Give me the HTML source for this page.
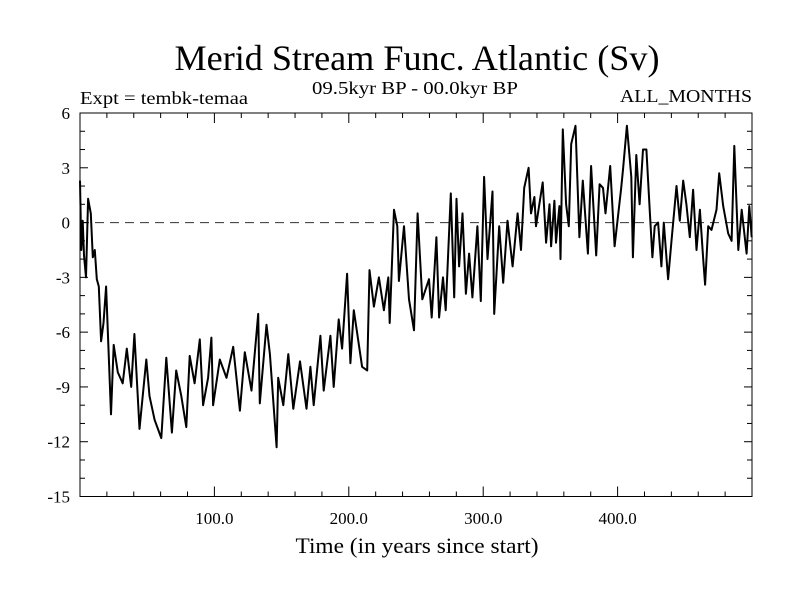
<!DOCTYPE html>
<html><head><meta charset="utf-8"><style>
html,body{margin:0;padding:0;background:#fff;}
svg{display:block;}
</style></head><body>
<svg id="chart" width="800" height="600" viewBox="0 0 800 600" xmlns="http://www.w3.org/2000/svg">
<rect width="800" height="600" fill="#fff"/>
<text x="417" y="70" text-anchor="middle" font-family="Liberation Serif, serif" font-size="36" textLength="485" lengthAdjust="spacingAndGlyphs">Merid Stream Func. Atlantic (Sv)</text>
<text x="80" y="104" font-family="Liberation Serif, serif" font-size="18" textLength="168" lengthAdjust="spacingAndGlyphs">Expt = tembk-temaa</text>
<text x="415" y="94" text-anchor="middle" font-family="Liberation Serif, serif" font-size="18" textLength="206" lengthAdjust="spacingAndGlyphs">09.5kyr BP - 00.0kyr BP</text>
<text x="752" y="102" text-anchor="end" font-family="Liberation Serif, serif" font-size="18" textLength="132" lengthAdjust="spacingAndGlyphs">ALL_MONTHS</text>
<text x="417" y="553" text-anchor="middle" font-family="Liberation Serif, serif" font-size="22" textLength="243" lengthAdjust="spacingAndGlyphs">Time (in years since start)</text>
<g id="axes"></g>
<g id="series"></g>
</svg>
<script>
const years = [0,1,2,3,4.5,6,8,9.5,11,12.5,14,15.7,17.5,19.4,21,23.1,25.1,28.1,31.8,34.8,38.1,40.5,44.3,49.3,51.7,55.5,60.5,64.2,68.4,71.6,75.4,79.1,81.6,85.3,89.1,91.6,95.3,97.8,99,104,109,114,119,122.6,127.6,132.6,133.8,138.8,141.3,146.3,147.5,151.3,155,158.7,163.7,168.5,171.4,173.9,178.9,181.3,186.3,188.8,192.5,195,198.7,201.2,203.7,209.9,213.7,215.4,218.7,222.4,226.1,229.4,230.4,233.6,236.1,237.3,241.1,244.8,248.5,251.2,254.7,259.7,261.7,265.2,267.2,270.1,272.1,275.9,278.4,280.1,282.1,284.6,287.1,289.5,292,295.7,298.2,300.7,303.2,306.9,308.2,311.9,314.9,318.1,321.9,325.6,328.1,330.5,333.8,335.6,338.1,339.3,344.3,346.8,349.3,350.5,353,354.2,356.7,357.5,359.2,361.7,363.7,365.5,368.7,371.6,374.1,377.9,380.3,384.1,386.6,389.1,391,394.5,397.8,402.7,404,406.9,410.2,411.4,413.9,416.4,418.9,421.4,423.9,425.9,427.6,430.1,432.6,434.4,437.6,440.1,443.8,446.3,448.8,451.2,453.7,456.2,458.7,461.2,463.7,465.1,467.4,469.9,473.6,475.6,478.6,482.3,484.8,486.8,489.8,492.3,496,498,499.8];
const values = [2.3,-1.5,0.1,-1.8,-3.0,1.3,0.5,-1.9,-1.5,-3.1,-3.5,-6.5,-5.5,-3.5,-6.5,-10.5,-6.7,-8.2,-8.8,-6.9,-9.0,-6.1,-11.3,-7.5,-9.5,-10.8,-11.8,-7.4,-11.5,-8.1,-9.5,-11.2,-7.3,-8.8,-6.4,-10.0,-8.5,-6.3,-10.0,-7.5,-8.5,-6.8,-10.3,-7.1,-9.2,-5.0,-9.9,-5.6,-7.2,-12.3,-8.5,-10.0,-7.2,-10.2,-7.6,-10.2,-7.9,-10.0,-6.2,-9.2,-6.2,-9.0,-5.3,-6.9,-2.8,-7.7,-4.8,-7.9,-8.1,-2.6,-4.6,-3.0,-4.8,-3.0,-5.5,0.7,-0.2,-3.2,-0.2,-4.2,-5.9,0.5,-4.2,-3.1,-5.2,-0.8,-5.2,-3.0,-4.8,1.6,-4.1,1.3,-2.4,0.5,-3.9,-1.7,-4.1,-0.2,-4.3,2.5,-2.0,1.7,-5.0,-0.2,-3.3,0.1,-2.4,0.5,-1.5,1.9,3.0,0.5,1.4,-0.2,2.2,-1.1,1.0,-1.3,1.2,-1.1,0.9,-2.0,5.1,1.0,-0.2,4.3,5.3,-0.8,2.3,-1.7,3.1,-1.8,2.1,1.9,0.5,3.1,-1.3,1.9,2.9,5.3,2.5,-1.9,3.7,1.0,4.0,4.0,0.7,-1.9,-0.2,0,-2.4,0,-3.1,-1.0,2.0,0.1,2.3,1.0,-0.8,1.8,-1.5,0.7,-2.0,-3.4,-0.2,-0.4,0.7,2.7,0.9,-0.6,-1.0,4.2,-1.5,0.7,-1.7,0.9,-0.8];
const yTicks = [6,3,0,-3,-6,-9,-12,-15];
const xTicks = [100,200,300,400];
const xTickLabels = ["100.0","200.0","300.0","400.0"];

const NS = "http://www.w3.org/2000/svg";
const X0 = 80, X1 = 752, Y0 = 113, Y1 = 496.5;
const xMin = 0, xMax = 500, yMin = -15, yMax = 6;
function sx(t){ return X0 + (t - xMin) / (xMax - xMin) * (X1 - X0); }
function sy(v){ return Y0 + (yMax - v) / (yMax - yMin) * (Y1 - Y0); }
function mk(tag, attrs, parent){
  const e = document.createElementNS(NS, tag);
  for (const k in attrs) e.setAttribute(k, attrs[k]);
  parent.appendChild(e);
  return e;
}
const axes = document.getElementById('axes');
const series = document.getElementById('series');

const zl = mk('line', {x1:X0, x2:X1, y1:sy(0), y2:sy(0), stroke:'#333', 'stroke-width':1, 'stroke-dasharray':'9,6'}, axes);



for (let v = yMin; v <= yMax; v++) {
  const major = (v % 3 === 0);
  const len = major ? 8 : 5;
  const t1 = mk('line', {x1:X0, x2:X0+len, y1:sy(v), y2:sy(v), stroke:'#000', 'stroke-width':1}, axes);
  
  
  const t2 = mk('line', {x1:X1, x2:X1-len, y1:sy(v), y2:sy(v), stroke:'#000', 'stroke-width':1}, axes);
  
  
}
yTicks.forEach(v => {
  const t = mk('text', {x:70, y:sy(v)+6, 'text-anchor':'end', 'font-family':'Liberation Serif, serif', 'font-size':17}, axes);
  t.textContent = String(v);
  
  
});
for (let t = 20; t < xMax; t += 20) {
  const major = (t % 100 === 0);
  const len = major ? 10 : 5;
  const b = mk('line', {x1:sx(t), x2:sx(t), y1:Y1, y2:Y1-len, stroke:'#000', 'stroke-width':1}, axes);
  
  
  const tp = mk('line', {x1:sx(t), x2:sx(t), y1:Y0, y2:Y0+len, stroke:'#000', 'stroke-width':1}, axes);
  
  
}
xTicks.forEach((t, i) => {
  const l = mk('text', {x:sx(t), y:524, 'text-anchor':'middle', 'font-family':'Liberation Serif, serif', 'font-size':17}, axes);
  l.textContent = xTickLabels[i];
  
  
});
const frame = mk('rect', {x:X0, y:Y0, width:X1-X0, height:Y1-Y0, fill:'none', stroke:'#000', 'stroke-width':1}, axes);



const d = years.map((t, i) => (i ? 'L' : 'M') + sx(t).toFixed(1) + ',' + sy(values[i]).toFixed(1)).join(' ');
const path = mk('path', {d:d, fill:'none', stroke:'#000', 'stroke-width':2, 'stroke-linejoin':'round'}, series);


</script>
</body></html>
